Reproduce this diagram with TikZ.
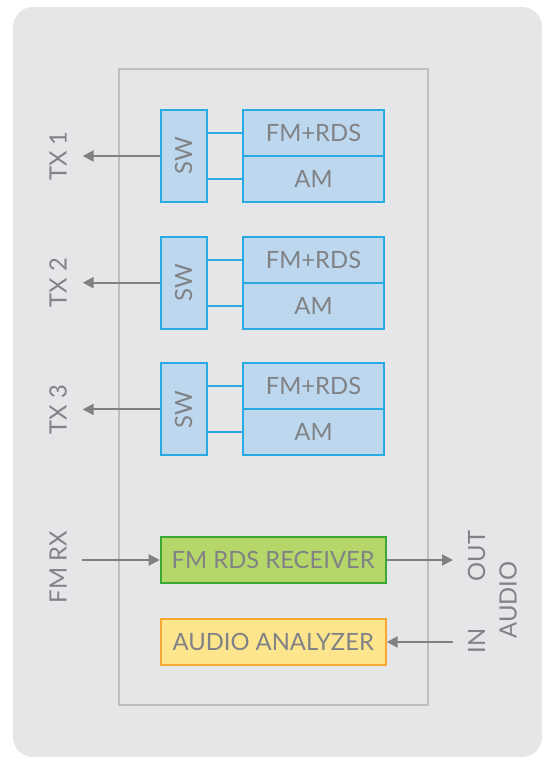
\documentclass[tikz,border=0pt]{standalone}
\usepackage{fontspec}
\setmainfont{Lato}
\usetikzlibrary{arrows.meta}
\definecolor{bgc}{HTML}{E5E6E8}
\definecolor{framec}{HTML}{BCBEC0}
\definecolor{bluefill}{HTML}{BDD7EE}
\definecolor{blueline}{HTML}{29ABE2}
\definecolor{greenfill}{HTML}{B5D76A}
\definecolor{greenline}{HTML}{3AAA35}
\definecolor{yelfill}{HTML}{FDE58E}
\definecolor{yelline}{HTML}{F7A833}
\definecolor{txt}{HTML}{808285}
\definecolor{arr}{HTML}{808080}
\tikzset{
  fnt/.style={font=\fontsize{23.8}{28}\selectfont},
  blk/.style={draw=blueline, fill=bluefill, line width=2pt, text=txt, inner sep=0pt, fnt},
  swbox/.style={blk, minimum width=46pt, minimum height=92pt},
  modbox/.style={blk, minimum width=141.6pt, minimum height=46pt},
  rxbox/.style={draw=greenline, fill=greenfill, line width=2pt, text=txt, inner sep=0pt, minimum width=225pt, minimum height=46.6pt, fnt},
  anbox/.style={draw=yelline, fill=yelfill, line width=2pt, text=txt, inner sep=0pt, minimum width=225pt, minimum height=46pt, fnt},
  lbl/.style={text=txt, inner sep=0pt, fnt, rotate=90},
  conn/.style={draw=blueline, line width=2pt},
  sig/.style={draw=arr, line width=2pt, -{Triangle[length=11pt,width=11pt]}}
}
\begin{document}
\begin{tikzpicture}[x=1pt,y=-1pt]
\useasboundingbox (0,0) rectangle (546,758);
\fill[bgc, rounded corners=20pt] (13,7) rectangle (542,757);
\draw[framec, line width=2pt] (119,69) rectangle (428,705);
\foreach \i/\dy in {1/0,2/126.7,3/253.4}{
  \node[swbox] (sw\i) at (183.7,156+\dy) {\rotatebox{90}{SW}};
  \node[modbox] (fm\i) at (313.5,133+\dy) {FM+RDS};
  \node[modbox] (am\i) at (313.5,179+\dy) {AM};
  \coordinate (tx\i) at (82.7,156+\dy);
  \node[lbl] (lt\i) at (58,156+\dy) {TX \i};
  \draw[conn] (sw\i.east |- fm\i.west) -- (fm\i.west);
  \draw[conn] (sw\i.east |- am\i.west) -- (am\i.west);
  \draw[sig] (sw\i.west) -- (tx\i);
}
\node[rxbox] (rx) at (273.2,560) {FM RDS RECEIVER};
\node[anbox] (an) at (273.2,642) {AUDIO ANALYZER};
\coordinate (rxin) at (81.7,560);
\coordinate (rxout) at (453,560);
\coordinate (anin) at (453,642);
\node[lbl] (lfm) at (58,567) {FM RX};
\node[lbl] (lout) at (476.7,556) {OUT};
\node[lbl] (lin) at (476.7,641) {IN};
\node[lbl] (laud) at (508,600) {AUDIO};
\draw[sig] (rxin) -- (rx.west);
\draw[sig] (rx.east) -- (rxout);
\draw[sig] (anin) -- (an.east);
\end{tikzpicture}
\end{document}
